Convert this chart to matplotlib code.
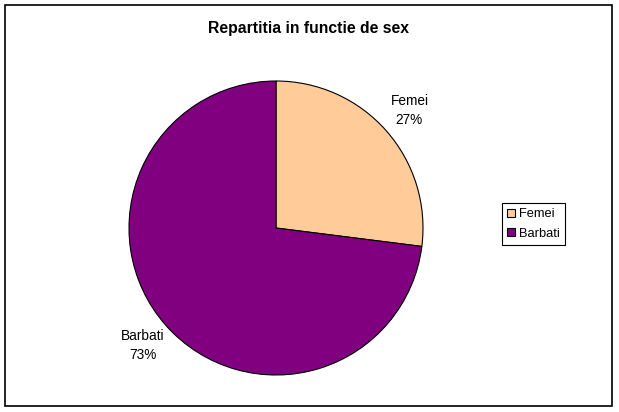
import matplotlib.pyplot as plt
from matplotlib.patches import Rectangle

# Chart data
categories = ['Femei', 'Barbati']
percentages = [27, 73]
colors = ['#FFCC99', '#800080']
title = 'Repartitia in functie de sex'

W, H = 619, 412

plt.rcParams['font.family'] = ['Liberation Sans', 'DejaVu Sans']

fig = plt.figure(figsize=(W / 100, H / 100), dpi=100)

# outer frame around the chart area
fig.patches.append(Rectangle((5 / W, 1 - 406 / H), 607 / W, 401 / H,
                             transform=fig.transFigure, fill=False,
                             edgecolor='black', linewidth=1.2))

# pie axes: centre (276, 228), radius 147 px
cx, cy, r = 276, 228, 147
ax = fig.add_axes([(cx - r) / W, 1 - (cy + r) / H, 2 * r / W, 2 * r / H])

labels = [f'{c}\n{p}%' for c, p in zip(categories, percentages)]
wedges, texts = ax.pie(percentages, labels=labels, colors=colors,
                       startangle=90, counterclock=False,
                       labeldistance=1.21,
                       wedgeprops={'edgecolor': 'black', 'linewidth': 0.8},
                       textprops={'fontsize': 9.8})
for t in texts:
    t.set_ha('center')
    t.set_va('center')
    t.set_multialignment('center')
    t.set_linespacing(1.45)
ax.set_xlim(-1, 1)
ax.set_ylim(-1, 1)
ax.set_aspect('auto')

fig.text(309 / W, 1 - 28 / H, title, ha='center', va='center',
         fontsize=11.3, fontweight='bold')

leg = fig.legend(wedges, categories, loc='center left',
                 bbox_to_anchor=(502 / W, 1 - 224 / H),
                 fontsize=9.3, frameon=True, fancybox=False,
                 edgecolor='black', framealpha=1,
                 handlelength=0.6, handleheight=0.6, handletextpad=0.3,
                 borderpad=0.4, labelspacing=0.55, borderaxespad=0)
leg.get_frame().set_linewidth(0.8)

fig.savefig('out.png', dpi=100)
